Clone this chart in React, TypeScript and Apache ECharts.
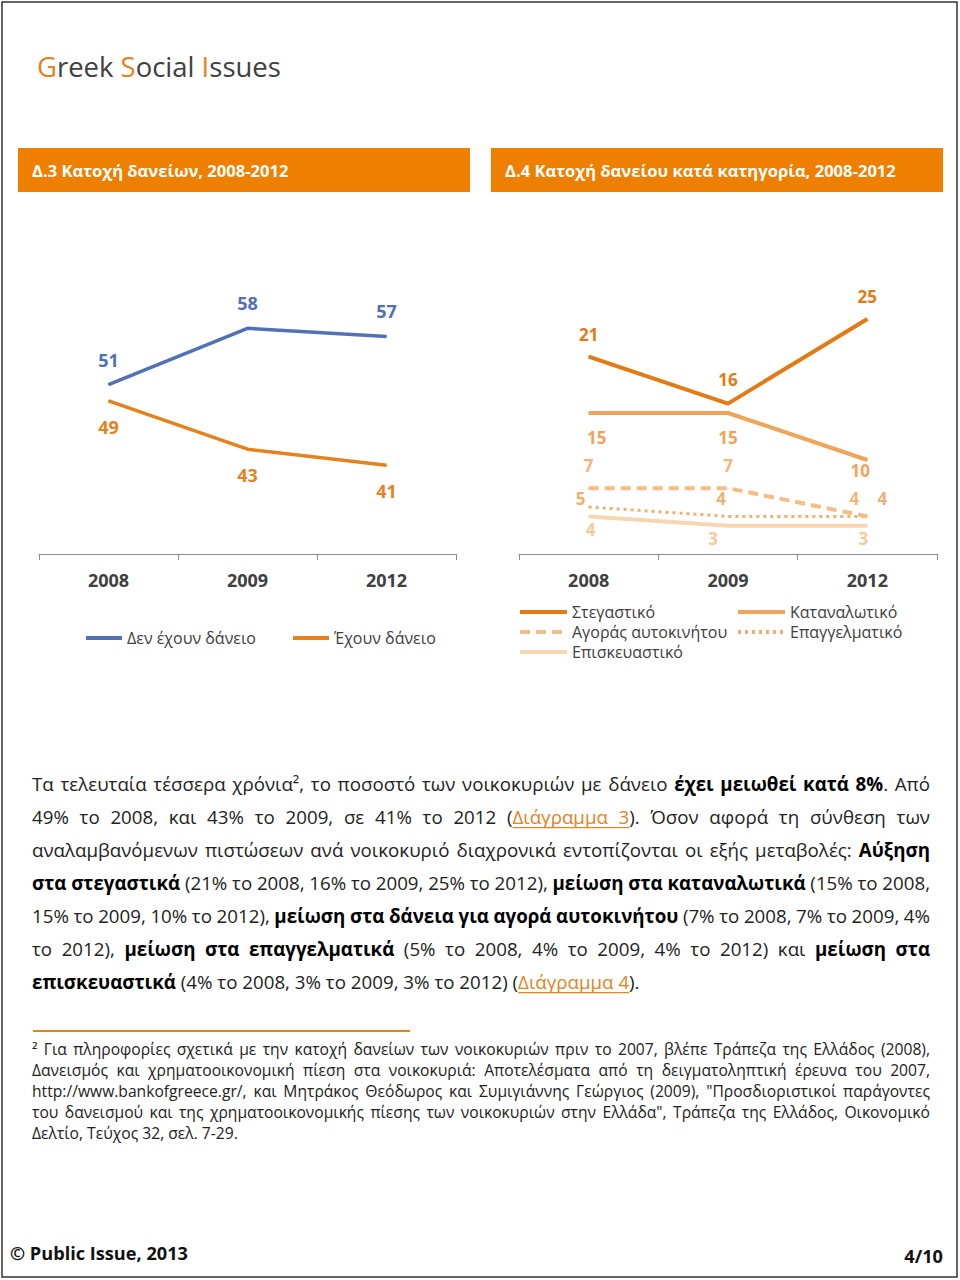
import React, { useEffect, useRef } from 'react';
import * as echarts from 'echarts';

// ---------- data ----------
const years = ['2008', '2009', '2012'];
const noLoan = [51, 58, 57];
const hasLoan = [49, 43, 41];
const housing = [21, 16, 25];
const consumer = [15, 15, 10];
const car = [7, 7, 4];
const business = [5, 4, 4];
const repair = [4, 3, 3];

const titleHeader1 = 'Δ.3 Κατοχή δανείων, 2008-2012';
const titleHeader2 = 'Δ.4 Κατοχή δανείου κατά κατηγορία, 2008-2012';

// paragraph: [text, style] style 0 normal, 1 bold, 2 orange link
type Seg = [string, number];
const paragraph: Seg[][] = [
  [['Τα τελευταία τέσσερα χρόνια², το ποσοστό των νοικοκυριών με δάνειο ', 0], ['έχει μειωθεί κατά 8%', 1], ['. Από', 0]],
  [['49% το 2008, και 43% το 2009, σε 41% το 2012 (', 0], ['Διάγραμμα 3', 2], ['). Όσον αφορά τη σύνθεση των', 0]],
  [['αναλαμβανόμενων πιστώσεων ανά νοικοκυριό διαχρονικά εντοπίζονται οι εξής μεταβολές: ', 0], ['Αύξηση', 1]],
  [['στα στεγαστικά', 1], [' (21% το 2008, 16% το 2009, 25% το 2012), ', 0], ['μείωση στα καταναλωτικά', 1], [' (15% το 2008,', 0]],
  [['15% το 2009, 10% το 2012), ', 0], ['μείωση στα δάνεια για αγορά αυτοκινήτου', 1], [' (7% το 2008, 7% το 2009, 4%', 0]],
  [['το 2012), ', 0], ['μείωση στα επαγγελματικά', 1], [' (5% το 2008, 4% το 2009, 4% το 2012) και ', 0], ['μείωση στα', 1]],
  [['επισκευαστικά', 1], [' (4% το 2008, 3% το 2009, 3% το 2012) (', 0], ['Διάγραμμα 4', 2], [').', 0]],
];
const footnote: Seg[][] = [
  [['² Για πληροφορίες σχετικά με την κατοχή δανείων των νοικοκυριών πριν το 2007, βλέπε Τράπεζα της Ελλάδος (2008),', 0]],
  [['Δανεισμός και χρηματοοικονομική πίεση στα νοικοκυριά: Αποτελέσματα από τη δειγματοληπτική έρευνα του 2007,', 0]],
  [['http://www.bankofgreece.gr/, και Μητράκος Θεόδωρος και Συμιγιάννης Γεώργιος (2009), "Προσδιοριστικοί παράγοντες', 0]],
  [['του δανεισμού και της χρηματοοικονομικής πίεσης των νοικοκυριών στην Ελλάδα", Τράπεζα της Ελλάδος, Οικονομικό', 0]],
  [['Δελτίο, Τεύχος 32, σελ. 7-29.', 0]],
];

// ---------- styles ----------
const FONT = '"Open Sans", "Noto Sans", "DejaVu Sans", sans-serif';
const BAR = '#EE7F00';
const TITLE_OR = '#E5821E';
const BLUE = '#5170B5';
const ORANGE1 = '#E5821E';
const HOUSING = '#E37A14';
const CONSUMER = '#F0A35A';
const CAR = '#F5BC84';
const BUSINESS = '#F2AE6E';
const REPAIR = '#F9D6B2';
const TEXT = '#222222';
const GRAY = '#404040';

// label centre offsets (px) for each point
const offNoLoan = [[0, -25], [0, -25], [0, -25]];
const offHasLoan = [[0, 26], [0, 26], [0, 26]];
const offHousing = [[0, -22], [0, -24], [0, -23]];
const offConsumer = [[8, 24], [0, 24], [-7, 10]];
const offCar = [[0, -23], [0, -23], [-13, -18]];
const offBusiness = [[-8, -9], [-7, -18], [15, -18]];
const offRepair = [[2, 13], [-15, 13], [-4, 13]];

let mctx: CanvasRenderingContext2D | null = null;
function tw(text: string, size: number, bold: boolean) {
  if (!mctx) mctx = document.createElement('canvas').getContext('2d');
  mctx!.font = `${bold ? 'bold' : 'normal'} ${size}px ${FONT}`;
  return mctx!.measureText(text).width;
}
function fontStr(size: number, bold: boolean) {
  return `${bold ? 'bold' : 'normal'} ${size}px ${FONT}`;
}
function textEl(x: number, y: number, text: string, size: number, bold: boolean, fill: string, align = 'left') {
  return {
    type: 'text', x, y, silent: true,
    style: { text, font: fontStr(size, bold), fill, align, verticalAlign: 'middle', textAlign: align, textVerticalAlign: 'middle' },
  };
}

type Piece = { t: string; st: number };
function splitWords(segs: Seg[]) {
  const words: Piece[][] = [];
  let cur: Piece[] = [];
  for (const [text, st] of segs) {
    const parts = text.split(' ');
    parts.forEach((p, j) => {
      if (j > 0) { if (cur.length) words.push(cur); cur = []; }
      if (p) cur.push({ t: p, st });
    });
  }
  if (cur.length) words.push(cur);
  return words;
}
function naturalWidth(segs: Seg[], size: number) {
  const words = splitWords(segs);
  let w = 0;
  words.forEach(wd => wd.forEach(p => { w += tw(p.t, size, p.st === 1); }));
  return w + (words.length - 1) * tw(' ', size, false);
}
function layoutLine(segs: Seg[], x0: number, x1: number, y: number, size: number, justify: boolean, colors: string[], out: any[]) {
  const words = splitWords(segs);
  const widths = words.map(w => w.reduce((s, p) => s + tw(p.t, size, p.st === 1), 0));
  const total = widths.reduce((a, b) => a + b, 0);
  const space = tw(' ', size, false);
  const gap = justify && words.length > 1 ? (x1 - x0 - total) / (words.length - 1) : space;
  let x = x0;
  const uy = y + size * 0.62;
  words.forEach((w, i) => {
    for (const p of w) {
      const pw = tw(p.t, size, p.st === 1);
      out.push(textEl(x, y, p.t, size, p.st === 1, colors[p.st]));
      if (p.st === 2) {
        out.push({ type: 'line', silent: true, shape: { x1: x, y1: uy, x2: x + pw, y2: uy }, style: { stroke: colors[2], lineWidth: 1.2 } });
      }
      x += pw;
    }
    if (i < words.length - 1 && w[w.length - 1].st === 2 && words[i + 1][0].st === 2) {
      out.push({ type: 'line', silent: true, shape: { x1: x, y1: uy, x2: x + gap, y2: uy }, style: { stroke: colors[2], lineWidth: 1.2 } });
    }
    x += gap;
  });
}

function mkData(values: number[], offs: number[][]) {
  return values.map((v, i) => ({ value: v, label: { offset: offs[i] } }));
}

function lineSeries(name: string, values: number[], offs: number[][], color: string, labelColor: string, width: number, type: any, idx: number, fontSize: number) {
  return {
    type: 'line', name, xAxisIndex: idx, yAxisIndex: idx,
    data: mkData(values, offs),
    symbol: 'circle', symbolSize: 1,
    itemStyle: { color },
    lineStyle: { color, width, type, cap: 'butt' },
    label: { show: true, position: 'inside', color: labelColor, fontSize, fontWeight: 'bold', fontFamily: FONT },
    emphasis: { disabled: true },
    z: 3,
  };
}

function buildOption() {
  const g: any[] = [];
  // page border
  g.push({ type: 'rect', silent: true, shape: { x: 2, y: 2, width: 955, height: 1275 }, style: { fill: 'none', stroke: '#333', lineWidth: 1.5 } });

  // title
  const tSize = 100 * 244 / tw('Greek Social Issues', 100, false);
  const tParts: [string, string][] = [['G', TITLE_OR], ['reek ', GRAY], ['S', TITLE_OR], ['ocial ', GRAY], ['I', TITLE_OR], ['ssues', GRAY]];
  let tx = 37;
  tParts.forEach(([t, c]) => { g.push(textEl(tx, 66, t, tSize, false, c)); tx += tw(t, tSize, false); });

  // header bars
  g.push({ type: 'rect', silent: true, shape: { x: 18, y: 148, width: 452, height: 44 }, style: { fill: BAR } });
  g.push({ type: 'rect', silent: true, shape: { x: 491, y: 148, width: 452, height: 44 }, style: { fill: BAR } });
  const h1 = 100 * 258 / tw(titleHeader1, 100, true);
  const h2 = 100 * 391 / tw(titleHeader2, 100, true);
  const hs = Math.min(h1, h2);
  g.push(textEl(32, 170, titleHeader1, hs, true, '#fff'));
  g.push(textEl(505, 170, titleHeader2, hs, true, '#fff'));

  // paragraph
  const pSize = 100 * 608 / naturalWidth(paragraph[paragraph.length - 1], 100);
  paragraph.forEach((segs, i) => {
    layoutLine(segs, 32, 930, 783 + i * 33, pSize, i < paragraph.length - 1, [TEXT, '#000', TITLE_OR], g);
  });

  // footnote rule + footnote
  g.push({ type: 'line', silent: true, shape: { x1: 33, y1: 1031, x2: 410, y2: 1031 }, style: { stroke: TITLE_OR, lineWidth: 2 } });
  const fSize = 100 * 206 / naturalWidth(footnote[footnote.length - 1], 100);
  footnote.forEach((segs, i) => {
    layoutLine(segs, 32, 930, 1049 + i * 21, fSize, i < footnote.length - 1, [TEXT, '#000', TITLE_OR], g);
  });

  // footer
  const ftSize = 100 * 178 / tw('© Public Issue, 2013', 100, true);
  g.push(textEl(10, 1253, '© Public Issue, 2013', ftSize, true, '#111'));
  g.push(textEl(943, 1256, '4/10', ftSize, true, '#111', 'right'));

  const xAxisCommon = {
    type: 'category', data: years, boundaryGap: true,
    axisLine: { lineStyle: { color: '#8c8c8c', width: 1 } },
    axisTick: { show: true, length: 6, lineStyle: { color: '#8c8c8c', width: 1 } },
    axisLabel: { fontSize: 18, fontWeight: 'bold', color: GRAY, margin: 17, fontFamily: FONT },
    splitLine: { show: false },
  };

  const legendCommon = { padding: 0, itemHeight: 14, itemStyle: { opacity: 0 }, selectedMode: false };

  return {
    animation: false,
    backgroundColor: '#fff',
    textStyle: { fontFamily: FONT },
    grid: [
      { left: 39, top: 231.6, width: 417, height: 322.4 },
      { left: 519, top: 272, width: 418, height: 282 },
    ],
    xAxis: [
      { ...xAxisCommon, gridIndex: 0 },
      { ...xAxisCommon, gridIndex: 1 },
    ],
    yAxis: [
      { type: 'value', gridIndex: 0, min: 30, max: 70, show: false },
      { type: 'value', gridIndex: 1, min: 0, max: 30, show: false },
    ],
    legend: [
      {
        ...legendCommon,
        data: ['Δεν έχουν δάνειο', 'Έχουν δάνειο'], left: 84, top: 630, orient: 'horizontal',
        itemWidth: 36, itemGap: 35,
        lineStyle: { width: 4 },
        textStyle: { fontSize: 16, color: GRAY, fontFamily: FONT },
      },
      {
        ...legendCommon,
        data: ['Στεγαστικό', 'Αγοράς αυτοκινήτου', 'Επισκευαστικό'], left: 518, top: 604, orient: 'vertical',
        itemWidth: 47, itemGap: 4,
        lineStyle: { width: 4 },
        textStyle: { fontSize: 16, color: GRAY, fontFamily: FONT },
      },
      {
        ...legendCommon,
        data: ['Καταναλωτικό', 'Επαγγελματικό'], left: 736, top: 604, orient: 'vertical',
        itemWidth: 47, itemGap: 4,
        lineStyle: { width: 4 },
        textStyle: { fontSize: 16, color: GRAY, fontFamily: FONT },
      },
    ],
    series: [
      lineSeries('Δεν έχουν δάνειο', noLoan, offNoLoan, BLUE, BLUE, 3.5, 'solid', 0, 18),
      lineSeries('Έχουν δάνειο', hasLoan, offHasLoan, ORANGE1, ORANGE1, 3.5, 'solid', 0, 18),
      lineSeries('Επισκευαστικό', repair, offRepair, REPAIR, '#F6C999', 4, 'solid', 1, 17),
      lineSeries('Επαγγελματικό', business, offBusiness, BUSINESS, BUSINESS, 3, [3, 4], 1, 17),
      lineSeries('Αγοράς αυτοκινήτου', car, offCar, CAR, '#F3B578', 4, [10, 6], 1, 17),
      lineSeries('Καταναλωτικό', consumer, offConsumer, CONSUMER, CONSUMER, 4, 'solid', 1, 17),
      lineSeries('Στεγαστικό', housing, offHousing, HOUSING, HOUSING, 4, 'solid', 1, 17),
    ],
    graphic: { elements: g },
  };
}

export default function App() {
  const ref = useRef<HTMLDivElement>(null);
  useEffect(() => {
    const chart = echarts.init(ref.current!, null, { renderer: 'svg' });
    chart.setOption(buildOption() as any);
    return () => chart.dispose();
  }, []);
  return <div ref={ref} style={{ position: 'absolute', left: 0, top: 0, width: 960, height: 1280, background: '#fff' }} />;
}
